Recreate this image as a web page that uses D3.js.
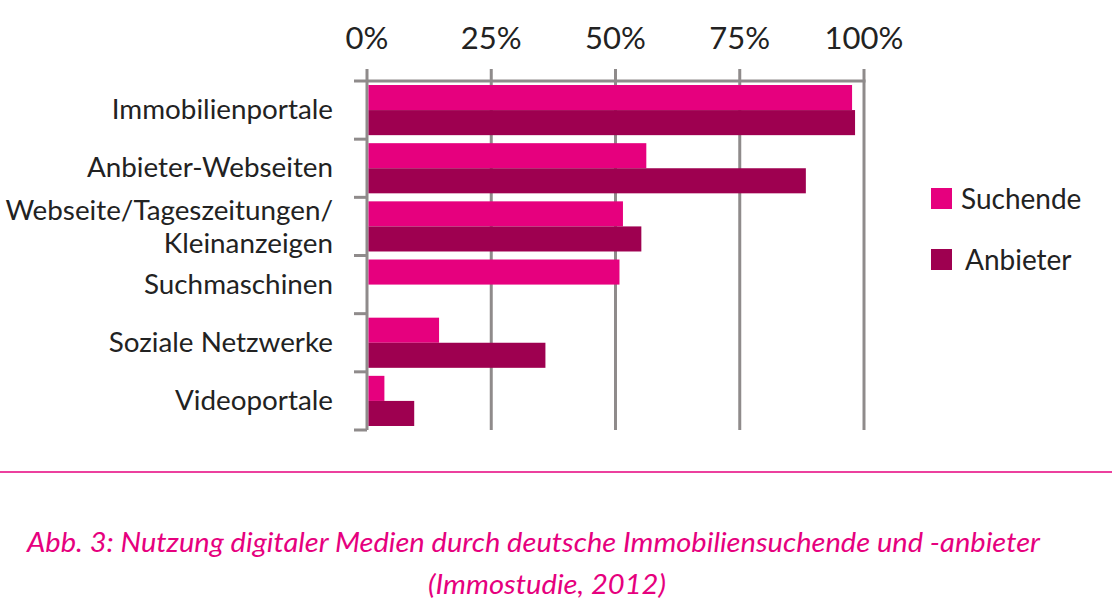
<!DOCTYPE html>
<html><head><meta charset="utf-8">
<script src="https://cdn.jsdelivr.net/npm/d3@7"></script>
<style>body{margin:0;background:#fff}svg{display:block}</style>
</head><body>
<svg id="c" width="1112" height="616"></svg>
<script>
const categories = ["Immobilienportale","Anbieter-Webseiten","Webseite/Tageszeitungen/\nKleinanzeigen","Suchmaschinen","Soziale Netzwerke","Videoportale"];
const suchende = [97.6, 56.2, 51.5, 50.8, 14.5, 3.5];
const anbieter = [98.2, 88.3, 55.2, 0, 35.9, 9.5];
const seriesNames = ["Suchende","Anbieter"];
const tickValues = [0,25,50,75,100];
const caption1 = "Abb. 3: Nutzung digitaler Medien durch deutsche Immobiliensuchende und -anbieter";
const caption2 = "(Immostudie, 2012)";

const colors = ["#e6007e","#9e0050"];
const grey = "#8f8b8b";
const font = "Lato, 'Open Sans', sans-serif";
const svg = d3.select("#c");

const x = d3.scaleLinear().domain([0,100]).range([367,864]);
const y = d3.scaleBand().domain(categories).range([81,430]).paddingInner(0).paddingOuter(0);
const ySub = d3.scaleBand().domain(seriesNames).range([0,y.bandwidth()]).paddingOuter(0.16).paddingInner(0);

// gridlines
svg.append("g").selectAll("line").data(tickValues).join("line")
  .attr("x1",d=>x(d)).attr("x2",d=>x(d)).attr("y1",69).attr("y2",430)
  .attr("stroke",grey).attr("stroke-width",3);
// top axis line
svg.append("line").attr("x1",354).attr("x2",x(100)+1.5).attr("y1",81).attr("y2",81)
  .attr("stroke",grey).attr("stroke-width",3);
// left category ticks
const bounds = categories.map(c=>y(c)).concat([y.range()[1]]);
svg.append("g").selectAll("line").data(bounds.slice(1)).join("line")
  .attr("x1",354).attr("x2",x(0)).attr("y1",d=>d).attr("y2",d=>d)
  .attr("stroke",grey).attr("stroke-width",3);

// tick labels
svg.append("g").selectAll("text").data(tickValues).join("text")
  .attr("x",d=>x(d)).attr("y",49).attr("text-anchor","middle")
  .attr("font-family",font).attr("font-size",31).attr("fill","#222")
  .text(d=>d+"%");

// bars
const data = categories.map((c,i)=>({c, vals:[suchende[i],anbieter[i]]}));
const g = svg.append("g");
data.forEach(d=>{
  d.vals.forEach((v,j)=>{
    if(v<=0) return;
    g.append("rect")
      .attr("x",x(0)+1.5).attr("y",y(d.c)+ySub(seriesNames[j]))
      .attr("width",x(v)-x(0)-1.5).attr("height",ySub.bandwidth())
      .attr("fill",colors[j]);
  });
});

// category labels
const labX = 333;
categories.forEach(c=>{
  const lines = c.split("\n");
  const cy = y(c)+y.bandwidth()/2 + (lines.length>1 ? 1 : -0.5);
  const t = svg.append("text").attr("text-anchor","end")
    .attr("font-family",font).attr("font-size",27.8).attr("fill","#222");
  lines.forEach((ln,k)=>{
    t.append("tspan").attr("x",labX).attr("y",cy + (k-(lines.length-1)/2)*33 + 9.5).text(ln);
  });
});

// legend
seriesNames.forEach((s,i)=>{
  const ly = 199 + i*61;
  svg.append("rect").attr("x",931).attr("y",ly-11).attr("width",21).attr("height",21).attr("fill",colors[i]);
  svg.append("text").attr("x",961 + i*4).attr("y",ly+10).attr("font-family",font).attr("font-size",28)
    .attr("fill","#222").text(s);
});

// rule
svg.append("line").attr("x1",0).attr("x2",1112).attr("y1",472).attr("y2",472)
  .attr("stroke","#e6007e").attr("stroke-width",1.5);

// caption
svg.append("text").attr("x",27).attr("y",552).attr("font-family",font).attr("font-style","italic")
  .attr("font-size",27).attr("fill","#e6007e").attr("textLength",1013).attr("lengthAdjust","spacingAndGlyphs")
  .text(caption1);
svg.append("text").attr("x",428).attr("y",594).attr("font-family",font).attr("font-style","italic")
  .attr("font-size",27).attr("fill","#e6007e").attr("textLength",238).attr("lengthAdjust","spacingAndGlyphs")
  .text(caption2);
</script>
</body></html>
